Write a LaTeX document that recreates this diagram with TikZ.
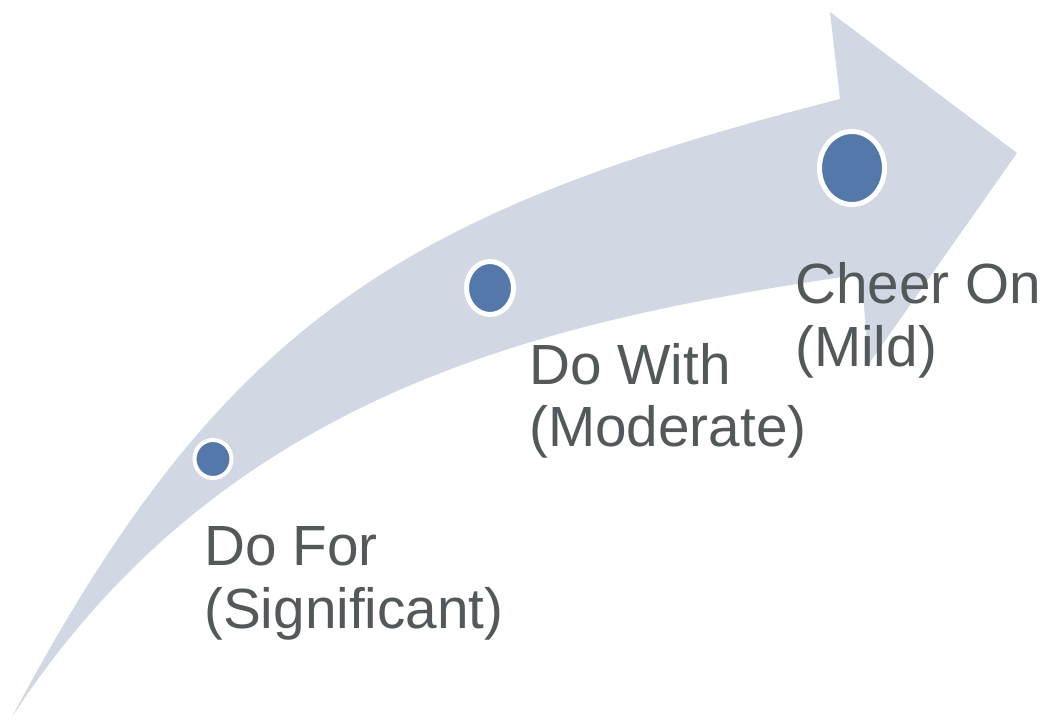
\documentclass[tikz,border=0pt]{standalone}
\usepackage{fontspec}
\setmainfont{Liberation Sans}
\usetikzlibrary{shapes.geometric}

\definecolor{arrowfill}{HTML}{D1D7E3}
\definecolor{dotblue}{HTML}{5478AA}
\definecolor{labelgray}{HTML}{53585B}

\tikzset{
  dot/.style={ellipse, fill=dotblue, draw=white, inner sep=0pt},
  steplabel/.style={anchor=base west, align=left, inner sep=0pt, text=labelgray,
    font=\fontsize{40.3pt}{44.8pt}\selectfont}
}

\begin{document}
\begin{tikzpicture}[x=0.025cm, y=-0.025cm]
\useasboundingbox (0,0) rectangle (1045,720);
% curved arrow
\coordinate (tail) at (12,717);
\coordinate (notchlow) at (862,274);
\coordinate (headlow) at (868,365);
\coordinate (headtip) at (1017,153);
\coordinate (headtop) at (830,12);
\coordinate (notchtop) at (840,99);
\fill [arrowfill] (tail) .. controls (230,382) and (566,318) .. (notchlow)
  -- (headlow) -- (headtip) -- (headtop) -- (notchtop)
  .. controls (404,211) and (223,320) .. (tail) -- cycle;

% dots
\node [dot, minimum width=0.925cm, minimum height=0.95cm, line width=0.1cm] (dotfor) at (213,459) {};
\node [dot, minimum width=1.175cm, minimum height=1.325cm, line width=0.125cm] (dotwith) at (490,288) {};
\node [dot, minimum width=1.625cm, minimum height=1.825cm, line width=0.125cm] (dotcheer) at (852,168) {};

% labels (base = last line)
\node [steplabel] (lblfor) at (204,628) {Do For\\(Significant)};
\node [steplabel] (lblwith) at (529,447) {Do With\\(Moderate)};
\node [steplabel] (lblcheer) at (795,367) {Cheer On\\(Mild)};
\end{tikzpicture}
\end{document}
